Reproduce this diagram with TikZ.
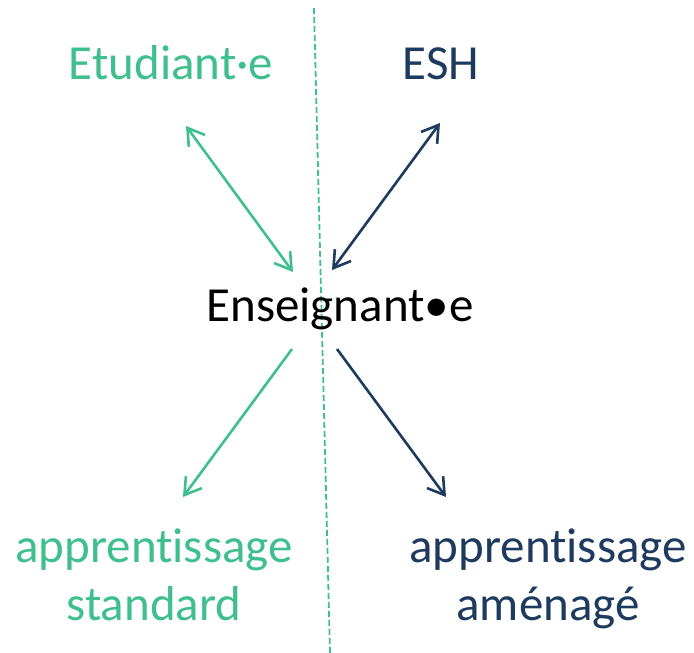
\documentclass[tikz,border=0pt]{standalone}
\usepackage{fontspec}
\setmainfont{Carlito}[Ligatures=CommonOff]
\usetikzlibrary{arrows.meta}
\definecolor{vert}{HTML}{40BF8E}
\definecolor{bleu}{HTML}{1E3A5F}
\tikzset{
  lbl/.style={inner sep=0pt, anchor=base, font=\fontsize{49}{58}\selectfont, align=center},
  tip/.style={Straight Barb[length=16pt,width=20pt,line width=2.6pt]},
  arr/.style={line width=2.6pt, -{Straight Barb[length=16pt,width=20pt,line width=2.6pt]}},
  darr/.style={line width=2.6pt, {Straight Barb[length=16pt,width=20pt,line width=2.6pt]}-{Straight Barb[length=16pt,width=20pt,line width=2.6pt]}},
  sep/.style={vert, line width=1.8pt, dash pattern=on 6pt off 3pt}
}
\begin{document}
\begin{tikzpicture}[x=1pt,y=-1pt]
\useasboundingbox (0,0) rectangle (694,653);
% dashed separator
\coordinate (s1) at (314,8);
\coordinate (s2) at (330,653);
\draw[sep] (s1) -- (s2);
% labels
\node[lbl, text=vert] (etu) at (171,79) {Etudiant·e};
\node[lbl, text=bleu] (esh) at (441,79) {ESH};
\node[lbl, text=black] (ens) at (340,321) {Enseignant•e};
\node[lbl, text=vert] (std) at (154,620) {apprentissage\\standard};
\node[lbl, text=bleu] (amn) at (548,620) {apprentissage\\aménagé};
% arrow end points
\coordinate (a1) at (186,126);
\coordinate (a2) at (293,272);
\coordinate (b1) at (440,123);
\coordinate (b2) at (332,270);
\coordinate (c1) at (292,349);
\coordinate (c2) at (183,497);
\coordinate (d1) at (337,349);
\coordinate (d2) at (446,497);
\draw[darr, vert] (a1) -- (a2);
\draw[darr, bleu] (b1) -- (b2);
\draw[arr, vert] (c1) -- (c2);
\draw[arr, bleu] (d1) -- (d2);
\end{tikzpicture}
\end{document}
